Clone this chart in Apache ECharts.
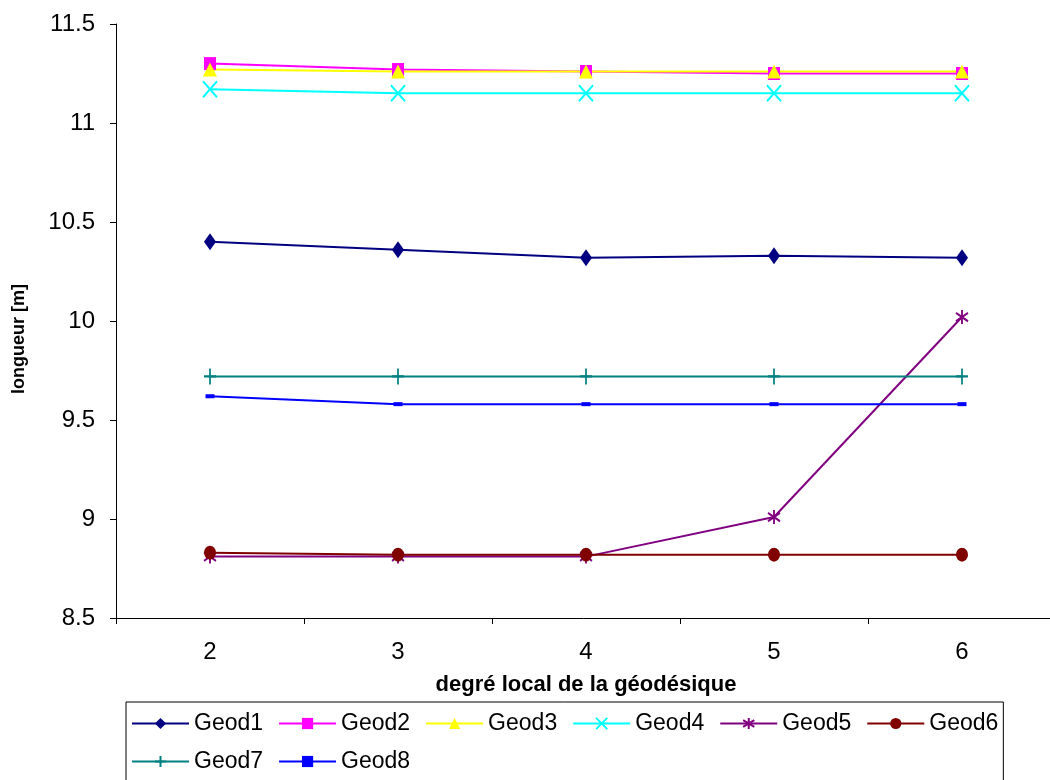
<!DOCTYPE html>
<html>
<head>
<meta charset="utf-8">
<script src="https://cdn.jsdelivr.net/npm/echarts@6/dist/echarts.min.js"></script>
<style>
  html, body { margin: 0; padding: 0; background: #fff; }
  #chart { width: 1050px; height: 780px; }
</style>
</head>
<body>
<div id="chart"></div>
<script>
// degré local de la géodésique
const categories = ['2', '3', '4', '5', '6']

// longueur [m] par géodésique
const geod1 = [10.40, 10.36, 10.32, 10.33, 10.32]
const geod2 = [11.30, 11.27, 11.26, 11.25, 11.25]
const geod3 = [11.27, 11.26, 11.26, 11.26, 11.26]
const geod4 = [11.17, 11.15, 11.15, 11.15, 11.15]
const geod5 = [8.81, 8.81, 8.81, 9.01, 10.02]
const geod6 = [8.83, 8.82, 8.82, 8.82, 8.82]
const geod7 = [9.72, 9.72, 9.72, 9.72, 9.72]
const geod8 = [9.62, 9.58, 9.58, 9.58, 9.58]

const FONT = "'Liberation Sans', Arial, sans-serif"

// formes des marqueurs
const SYM_X = 'path://M0,0L10,10M10,0L0,10'
const SYM_STAR = 'path://M5,0L5,10M0,2L10,8M10,2L0,8'
const SYM_PLUS = 'path://M5,0L5,10M0,5L10,5'

function makeSeries(name, data, color, symbol, size, stroked) {
  return {
    name: name,
    type: 'line',
    data: data,
    symbol: symbol,
    symbolSize: size,
    showAllSymbol: true,
    lineStyle: { color: color, width: 2 },
    itemStyle: stroked
      ? { color: color, borderColor: color, borderWidth: 2 }
      : { color: color, borderWidth: 0 },
    emphasis: { disabled: true },
    animation: false
  }
}

const chartInstance = echarts.init(document.getElementById('chart'), null, { renderer: 'canvas' })

const option = {
  backgroundColor: '#fff',
  textStyle: { fontFamily: FONT, color: '#000' },
  grid: { left: 116, width: 940, top: 24, bottom: 162, outerBoundsMode: 'none', containLabel: false },
  xAxis: {
    type: 'category',
    data: categories,
    boundaryGap: true,
    name: 'degré local de la géodésique',
    nameLocation: 'middle',
    nameGap: 56,
    nameTextStyle: { fontFamily: FONT, fontSize: 22, fontWeight: 'bold', color: '#000' },
    axisLine: { show: true, lineStyle: { color: '#000', width: 1 } },
    axisTick: { show: true, alignWithLabel: false, length: 6, lineStyle: { color: '#000' } },
    axisLabel: { fontFamily: FONT, fontSize: 24, color: '#000', margin: 22 },
    splitLine: { show: false }
  },
  yAxis: {
    type: 'value',
    min: 8.5,
    max: 11.5,
    interval: 0.5,
    name: 'longueur [m]',
    nameLocation: 'middle',
    nameGap: 88,
    nameRotate: 90,
    nameTextStyle: {
      fontFamily: FONT, fontSize: 18, fontWeight: 'bold', color: '#000',
      padding: [0, 36, 0, 0]
    },
    axisLine: { show: true, lineStyle: { color: '#000', width: 1 } },
    axisTick: { show: true, length: 6, lineStyle: { color: '#000' } },
    axisLabel: { fontFamily: FONT, fontSize: 24, color: '#000', margin: 21 },
    splitLine: { show: false }
  },
  legend: {
    left: 126,
    top: 702,
    width: 870,
    padding: [10, 5, 10, 5],
    borderColor: '#000',
    borderWidth: 1,
    itemWidth: 57,
    itemHeight: 14,
    itemGap: 15,
    textStyle: { fontFamily: FONT, fontSize: 23, color: '#000' }
  },
  series: [
    makeSeries('Geod1', geod1, '#000080', 'diamond', [12, 17], false),
    makeSeries('Geod2', geod2, '#FF00FF', 'rect', [12, 13], false),
    makeSeries('Geod3', geod3, '#FFFF00', 'triangle', [14, 14], false),
    makeSeries('Geod4', geod4, '#00FFFF', SYM_X, [14, 16], true),
    makeSeries('Geod5', geod5, '#800080', SYM_STAR, [12, 14], true),
    makeSeries('Geod6', geod6, '#800000', 'circle', [12, 14], false),
    makeSeries('Geod7', geod7, '#008080', SYM_PLUS, [12, 16], true),
    makeSeries('Geod8', geod8, '#0000FF', 'rect', [9, 4], false)
  ]
}

chartInstance.setOption(option)
</script>
</body>
</html>
